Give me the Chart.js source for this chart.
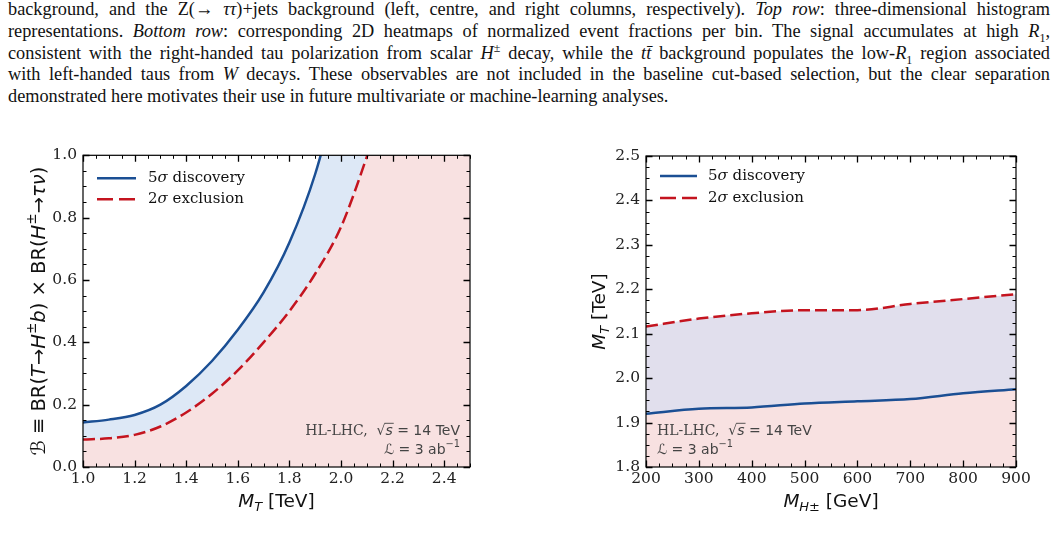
<!DOCTYPE html>
<html>
<head>
<meta charset="utf-8">
<script src="https://cdn.jsdelivr.net/npm/chart.js@4.4.1/dist/chart.umd.min.js"></script>
<style>
body{margin:0;width:1056px;height:560px;overflow:hidden;background:#fff;position:relative;}
#cap{position:absolute;left:8px;top:-1px;width:1042px;font-family:"Liberation Serif",serif;font-size:18.3px;line-height:21.8px;color:#111;}
#cap div{text-align:justify;text-align-last:justify;white-space:nowrap;}
#cap div.last{text-align-last:left;}
#cap sub,#cap sup{font-size:12px;line-height:0;}
.box{position:absolute;top:140px;width:528px;height:390px;}
</style>
</head>
<body>
<div id="cap">
<div>background, and the Z(→ <i>ττ</i>)+jets background (left, centre, and right columns, respectively). <i>Top row</i>: three-dimensional histogram</div>
<div>representations. <i>Bottom row</i>: corresponding 2D heatmaps of normalized event fractions per bin. The signal accumulates at high <i>R</i><sub>1</sub>,</div>
<div>consistent with the right-handed tau polarization from scalar <i>H</i><sup>±</sup> decay, while the <i>tt̄</i> background populates the low-<i>R</i><sub>1</sub> region associated</div>
<div>with left-handed taus from <i>W</i> decays. These observables are not included in the baseline cut-based selection, but the clear separation</div>
<div class="last">demonstrated here motivates their use in future multivariate or machine-learning analyses.</div>
</div>
<div class="box" style="left:0"><canvas id="cL" width="528" height="390"></canvas></div>
<div class="box" style="left:528px"><canvas id="cR" width="528" height="390"></canvas></div>
<script>
// left panel: coupling vs M_T (values past the frame are only there so the fills reach the edge)
var mT = [1.0, 1.1, 1.2, 1.3, 1.4, 1.5, 1.6, 1.7, 1.8, 1.9, 2.0, 2.1, 2.2, 2.3, 2.4, 2.5];
var discL = [0.143, 0.152, 0.167, 0.2, 0.26, 0.34, 0.44, 0.56, 0.72, 0.94, 1.25, 1.6, 2.0, 2.5, 3.0, 3.5];
var exclL = [0.088, 0.092, 0.103, 0.13, 0.175, 0.235, 0.31, 0.4, 0.5, 0.62, 0.77, 0.995, 1.25, 1.6, 2.0, 2.5];
// right panel: M_T reach vs M_H+
var mH = [200, 300, 400, 500, 600, 700, 800, 900];
var discR = [1.92, 1.931, 1.934, 1.943, 1.948, 1.953, 1.966, 1.975];
var exclR = [2.116, 2.134, 2.146, 2.153, 2.153, 2.167, 2.178, 2.189];

var xTicksL = [1.0, 1.2, 1.4, 1.6, 1.8, 2.0, 2.2, 2.4];
var yTicksL = [0.0, 0.2, 0.4, 0.6, 0.8, 1.0];
var xTicksR = [200, 300, 400, 500, 600, 700, 800, 900];
var yTicksR = [1.8, 1.9, 2.0, 2.1, 2.2, 2.3, 2.4, 2.5];

var SERIF = '"DejaVu Serif", serif';
var SANS = '"DejaVu Sans", sans-serif';
var BLUE = '#1b4f94';
var RED = '#c4141f';

function pts(xs, ys) {
    return xs.map(function(x, i) { return {x: x, y: ys[i]}; });
}

function segFont(s, size) {
    var sz = (s.sub || s.sup) ? size * 0.7 : size;
    return (s.it ? 'italic ' : '') + sz + 'px ' + (s.f || SANS);
}

function drawRich(ctx, segs, x, y, size, align, color) {
    var w = 0;
    segs.forEach(function(s) { ctx.font = segFont(s, size); s.w = ctx.measureText(s.t).width; w += s.w; });
    var cx = align == 'center' ? x - w / 2 : (align == 'right' ? x - w : x);
    ctx.fillStyle = color;
    ctx.strokeStyle = color;
    ctx.textBaseline = 'middle';
    ctx.textAlign = 'left';
    segs.forEach(function(s) {
        ctx.font = segFont(s, size);
        var dy = s.sub ? size * 0.28 : (s.sup ? -size * 0.38 : 0);
        ctx.fillText(s.t, cx, y + dy);
        if (s.over) {
            ctx.lineWidth = 0.9;
            ctx.beginPath();
            ctx.moveTo(cx - 1, y - size * 0.55);
            ctx.lineTo(cx + s.w + 1, y - size * 0.55);
            ctx.stroke();
        }
        cx += s.w;
    });
}

var deco = {
    id: 'deco',
    afterDraw: function(chart, args, o) {
        var ctx = chart.ctx, a = chart.chartArea;
        var xs = chart.scales.x, ys = chart.scales.y;
        ctx.save();
        ctx.strokeStyle = '#000';
        ctx.lineWidth = 1;
        // inward ticks on all four sides
        function tickX(v, len) {
            var p = Math.round(xs.getPixelForValue(v)) + 0.5;
            ctx.beginPath();
            ctx.moveTo(p, a.bottom); ctx.lineTo(p, a.bottom - len);
            ctx.moveTo(p, a.top); ctx.lineTo(p, a.top + len);
            ctx.stroke();
        }
        function tickY(v, len) {
            var p = Math.round(ys.getPixelForValue(v)) + 0.5;
            ctx.beginPath();
            ctx.moveTo(a.left, p); ctx.lineTo(a.left + len, p);
            ctx.moveTo(a.right, p); ctx.lineTo(a.right - len, p);
            ctx.stroke();
        }
        var v;
        for (v = xs.min; v <= xs.max + 1e-9; v += o.minorX) tickX(v, 3.5);
        for (v = ys.min; v <= ys.max + 1e-9; v += o.minorY) tickY(v, 3.5);
        ctx.lineWidth = 1.3;
        xs.ticks.forEach(function(t) { tickX(t.value, 6.5); });
        ys.ticks.forEach(function(t) { tickY(t.value, 6.5); });
        ctx.lineWidth = 1.2;
        ctx.strokeRect(a.left, a.top, a.right - a.left, a.bottom - a.top);

        // legend
        chart.data.datasets.forEach(function(ds, i) {
            var y = a.top + o.legY[i];
            ctx.strokeStyle = ds.borderColor;
            ctx.lineWidth = ds.borderWidth;
            ctx.setLineDash(ds.borderDash ? [16, 6] : []);
            ctx.beginPath();
            ctx.moveTo(a.left + o.legX[0], y);
            ctx.lineTo(a.left + o.legX[1], y);
            ctx.stroke();
            ctx.setLineDash([]);
            var p = ds.label.split('σ');
            drawRich(ctx, [{t: p[0], f: SERIF}, {t: 'σ', it: 1, f: SERIF}, {t: p[1], f: SERIF}],
                a.left + o.legX[2], y, 15, 'left', '#111');
        });

        // HL-LHC note
        var ax = o.noteAlign == 'right' ? a.right - 10 : a.left + 11;
        drawRich(ctx, [{t: 'HL-LHC,  ', f: SERIF}, {t: '√'}, {t: 's', it: 1, over: 1}, {t: ' = 14 TeV'}],
            ax, a.bottom - 36, 14, o.noteAlign, '#444');
        drawRich(ctx, [{t: 'ℒ', it: 1}, {t: ' = 3 ab'}, {t: '−1', sup: 1}],
            ax, a.bottom - 17, 14, o.noteAlign, '#444');

        // axis titles
        drawRich(ctx, o.xTitle, (a.left + a.right) / 2, a.bottom + 35, 18.5, 'center', '#111');
        ctx.translate(o.yTitleX, (a.top + a.bottom) / 2);
        ctx.rotate(-Math.PI / 2);
        drawRich(ctx, o.yTitle, 0, 0, o.yTitleSize, 'center', '#111');
        ctx.restore();
    }
};

function makeChart(id, opt) {
    return new Chart(document.getElementById(id).getContext('2d'), {
        type: 'line',
        data: {
            datasets: [{
                label: '5σ discovery',
                data: opt.disc,
                borderColor: BLUE,
                borderWidth: 2.5,
                backgroundColor: opt.discFill,
                fill: opt.discTo,
                pointRadius: 0,
                cubicInterpolationMode: 'monotone',
                clip: 0
            }, {
                label: '2σ exclusion',
                data: opt.excl,
                borderColor: RED,
                borderWidth: 2.5,
                borderDash: [12, 5],
                backgroundColor: opt.exclFill,
                fill: opt.exclTo,
                pointRadius: 0,
                cubicInterpolationMode: 'monotone',
                clip: 0
            }]
        },
        options: {
            responsive: false,
            animation: false,
            layout: {padding: opt.pad},
            plugins: {
                legend: {display: false},
                tooltip: {enabled: false},
                filler: {drawTime: 'beforeDatasetsDraw'},
                deco: opt.deco
            },
            scales: {
                x: {
                    type: 'linear', min: opt.xr[0], max: opt.xr[1],
                    grid: {display: false, drawTicks: false},
                    border: {display: false},
                    afterBuildTicks: function(s) { s.ticks = opt.xt.map(function(v) { return {value: v}; }); },
                    afterFit: function(s) { s.height = 63; },
                    ticks: {
                        padding: 3, maxRotation: 0, color: '#222',
                        font: {family: SERIF, size: 15.5},
                        callback: opt.xfmt
                    }
                },
                y: {
                    type: 'linear', min: opt.yr[0], max: opt.yr[1],
                    grid: {display: false, drawTicks: false},
                    border: {display: false},
                    afterBuildTicks: function(s) { s.ticks = opt.yt.map(function(v) { return {value: v}; }); },
                    afterFit: function(s) { s.width = opt.yw; },
                    ticks: {
                        padding: 6, color: '#222',
                        font: {family: SERIF, size: 15.5},
                        callback: function(v) { return v.toFixed(1); }
                    }
                }
            }
        },
        plugins: [deco]
    });
}

makeChart('cL', {
    disc: pts(mT, discL), excl: pts(mT, exclL),
    discFill: '#dde8f6', discTo: 1,
    exclFill: '#f8e1e1', exclTo: 'start',
    xr: [1.0, 2.5], yr: [0, 1], xt: xTicksL, yt: yTicksL, yw: 83,
    xfmt: function(v) { return v.toFixed(1); },
    pad: {left: 0, right: 58, top: 15, bottom: 0},
    deco: {
        minorX: 0.05, minorY: 0.05,
        legY: [23, 44], legX: [14, 53, 65],
        noteAlign: 'right',
        xTitle: [{t: 'M', it: 1}, {t: 'T', it: 1, sub: 1}, {t: ' [TeV]'}],
        yTitleX: 40, yTitleSize: 19.5,
        yTitle: [{t: 'ℬ', it: 1}, {t: ' ≡ BR('}, {t: 'T', it: 1}, {t: '→'}, {t: 'H', it: 1}, {t: '±', sup: 1},
            {t: 'b', it: 1}, {t: ') × BR('}, {t: 'H', it: 1}, {t: '±', sup: 1}, {t: '→'}, {t: 'τν', it: 1}, {t: ')'}]
    }
});

makeChart('cR', {
    disc: pts(mH, discR), excl: pts(mH, exclR),
    discFill: '#f8e1e1', discTo: 'start',
    exclFill: '#e1dfed', exclTo: 0,
    xr: [200, 900], yr: [1.8, 2.5], xt: xTicksR, yt: yTicksR, yw: 118,
    xfmt: function(v) { return String(v); },
    pad: {left: 0, right: 40, top: 16, bottom: 0},
    deco: {
        minorX: 25, minorY: 0.025,
        legY: [20, 42], legX: [14, 51, 62],
        noteAlign: 'left',
        xTitle: [{t: 'M', it: 1}, {t: 'H±', it: 1, sub: 1}, {t: ' [GeV]'}],
        yTitleX: 72, yTitleSize: 18.5,
        yTitle: [{t: 'M', it: 1}, {t: 'T', it: 1, sub: 1}, {t: ' [TeV]'}]
    }
});
</script>
</body>
</html>
